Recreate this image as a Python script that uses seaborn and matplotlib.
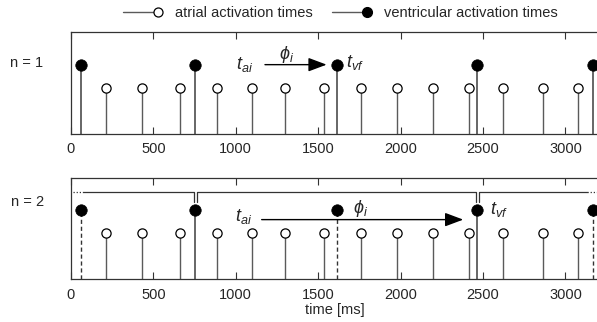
import numpy as np
import pandas as pd
import matplotlib
matplotlib.use("Agg")
import matplotlib.pyplot as plt
import seaborn as sns
from matplotlib.lines import Line2D
from matplotlib.legend_handler import HandlerLine2D

# ---- data (ms) ----
atrial_times = [215, 430, 664, 885, 1099, 1296, 1535, 1762, 1981, 2199, 2416, 2623, 2862, 3078]
ventricular_times = [58, 753, 1612, 2465, 3168]
# n = 2 : which ventricular beats are "conducted" (solid) vs skipped (dashed)
n2_solid = [False, True, False, True, False]
atrial_level = 1.0
ventricular_level = 1.5
xticks = [0, 500, 1000, 1500, 2000, 2500, 3000]
panel_labels = ["n = 1", "n = 2"]

sns.set_style("white")
plt.rcParams["font.family"] = ["Liberation Sans", "DejaVu Sans"]
plt.rcParams["mathtext.fontset"] = "custom"
plt.rcParams["mathtext.it"] = "Liberation Sans:italic"
plt.rcParams["mathtext.rm"] = "Liberation Sans"

FS = 10.5
MFS = 13
fig = plt.figure(figsize=(5.97, 3.22), dpi=100)
ax1 = fig.add_axes([0.1189, 0.5839, 0.8834, 0.3158])
ax2 = fig.add_axes([0.1189, 0.1326, 0.8834, 0.3137])

df_a = pd.DataFrame({"t": atrial_times, "y": atrial_level})
df_v = pd.DataFrame({"t": ventricular_times, "y": ventricular_level})

stem_col = "#5a5a5a"
for i, ax in enumerate([ax1, ax2]):
    ax.vlines(df_a["t"], 0, df_a["y"], color=stem_col, lw=1.0, zorder=1)
    if i == 0:
        ax.vlines(df_v["t"], 0, df_v["y"], color=stem_col, lw=1.3, zorder=1)
    else:
        for t, s in zip(ventricular_times, n2_solid):
            ax.vlines(t, 0, ventricular_level, color=stem_col if s else "#333333",
                      lw=1.3 if s else 1.0, linestyles="-" if s else (0, (3, 2)), zorder=1)
    sns.scatterplot(data=df_a, x="t", y="y", ax=ax, s=44, facecolor="white",
                    edgecolor="black", linewidth=0.9, zorder=3, legend=False)
    sns.scatterplot(data=df_v, x="t", y="y", ax=ax, s=68, color="black",
                    edgecolor="black", linewidth=0.5, zorder=3, legend=False)
    ax.set_xlim(0, 3200)
    ax.set_ylim(0, 2.2)
    ax.set_yticks([])
    ax.set_xticks(xticks)
    ax.set_xticklabels([str(x) for x in xticks], fontsize=FS)
    ax.tick_params(axis="x", direction="in", top=True, bottom=True, length=5,
                   width=0.8, color="#333333", pad=6)
    ax.set_xlabel("")
    ax.set_ylabel("")
    for sp in ax.spines.values():
        sp.set_linewidth(0.9)
        sp.set_color("#333333")
    ax.spines["right"].set_visible(False)

ax2.set_xlabel("time [ms]", fontsize=FS, labelpad=1)

arrow_style = dict(arrowstyle="-|>,head_length=0.8,head_width=0.3",
                   color="black", lw=1.0, mutation_scale=14, shrinkA=0, shrinkB=0)

# ---- n = 1 annotations ----
ax1.annotate("", xy=(1551, 1.5), xytext=(1177, 1.5), arrowprops=arrow_style)
ax1.text(1000, 1.50, r"$t_{ai}$", fontsize=MFS, ha="left", va="center")
ax1.text(1311, 1.72, r"$\phi_i$", fontsize=MFS, ha="center", va="center")
ax1.text(1670, 1.55, r"$t_{vf}$", fontsize=MFS, ha="left", va="center")

# ---- n = 2 bracket ----
yb, yd = 1.9, 1.69
bk = "#333333"
ax2.plot([10, 71], [yb, yb], color=bk, lw=0.9, ls=(0, (1, 1.5)))
ax2.plot([71, 746, 746], [yb, yb, yd], color=bk, lw=0.9)
ax2.plot([762, 762, 2457, 2457], [yd, yb, yb, yd], color=bk, lw=0.9)
ax2.plot([2474, 2474, 3130], [yd, yb, yb], color=bk, lw=0.9)
ax2.plot([3130, 3200], [yb, yb], color=bk, lw=0.9, ls=(0, (1, 1.5)))

ax2.annotate("", xy=(2380, 1.30), xytext=(1157, 1.30), arrowprops=arrow_style)
ax2.text(995, 1.36, r"$t_{ai}$", fontsize=MFS, ha="left", va="center")
ax2.text(1760, 1.55, r"$\phi_i$", fontsize=MFS, ha="center", va="center")
ax2.text(2540, 1.52, r"$t_{vf}$", fontsize=MFS, ha="left", va="center")

# ---- panel labels ----
fig.text(10 / 597, 1 - 63 / 322, panel_labels[0], fontsize=FS, ha="left", va="center")
fig.text(11 / 597, 1 - 202 / 322, panel_labels[1], fontsize=FS, ha="left", va="center")

# ---- legend ----
class EndMarkerHandler(HandlerLine2D):
    def create_artists(self, legend, orig_handle, xdescent, ydescent, width, height,
                       fontsize, trans):
        y = height / 2 - ydescent
        line = Line2D([-xdescent, -xdescent + width], [y, y])
        self.update_prop(line, orig_handle, legend)
        line.set_marker("None")
        line.set_transform(trans)
        mk = Line2D([-xdescent + width], [y])
        self.update_prop(mk, orig_handle, legend)
        mk.set_linestyle("None")
        mk.set_transform(trans)
        return [line, mk]

h_a = Line2D([], [], color=stem_col, lw=1.0, marker="o", markersize=6.5,
             markerfacecolor="white", markeredgecolor="black", markeredgewidth=0.9)
h_v = Line2D([], [], color=stem_col, lw=1.0, marker="o", markersize=7,
             markerfacecolor="black", markeredgecolor="black")
fig.legend([h_a, h_v], ["atrial activation times", "ventricular activation times"],
           loc="center", bbox_to_anchor=(0.57, 1 - 13 / 322), ncol=2, frameon=False,
           fontsize=FS, handlelength=2.4, handletextpad=1.2, columnspacing=1.3,
           handler_map={Line2D: EndMarkerHandler()})

fig.savefig("out.png", dpi=100)
